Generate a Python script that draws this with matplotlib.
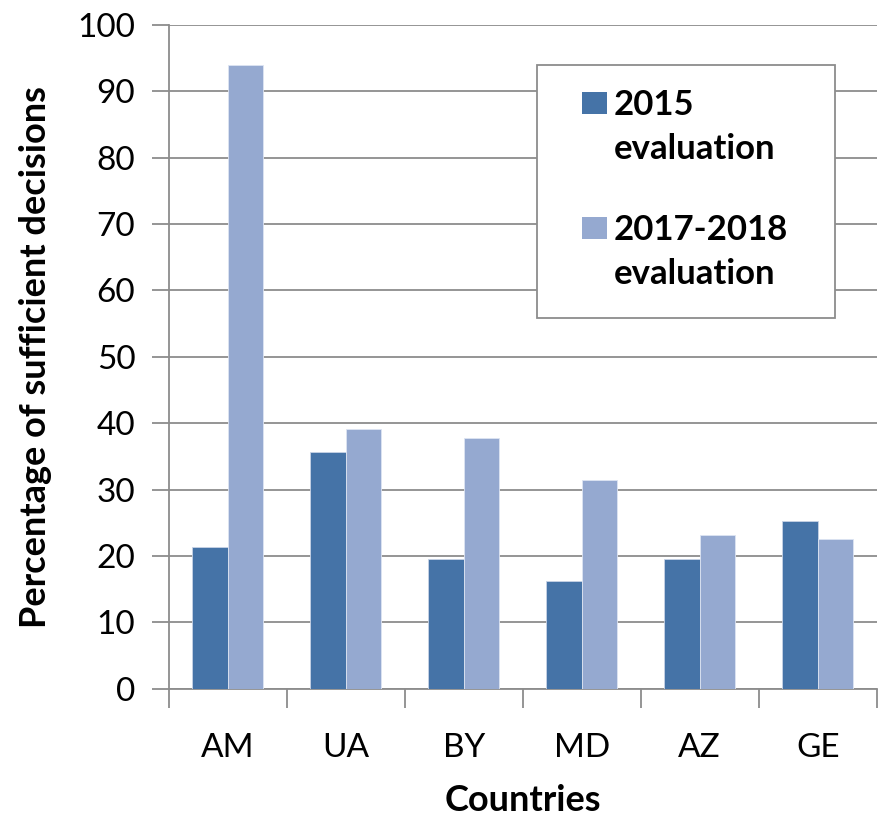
# %% libraries
import numpy as np
import matplotlib
matplotlib.use('Agg')
import matplotlib.pyplot as plt
from matplotlib.patches import Rectangle

# %% data
countries = ['AM', 'UA', 'BY', 'MD', 'AZ', 'GE']
eval_2015 = [21.4, 35.6, 19.5, 16.2, 19.5, 25.3]
eval_2017_2018 = [93.9, 39.2, 37.7, 31.4, 23.1, 22.5]
series_labels = ['2015\nevaluation', '2017-2018\nevaluation']
colors = ['#4573a7', '#95a9d0']

# %% plot
plt.rcParams['font.family'] = ['Lato', 'DejaVu Sans']
grey = '#8c8c8c'

fig = plt.figure(figsize=(8.83, 8.24), dpi=100)
ax = fig.add_axes([0.191, 0.164, 0.802, 0.806])

x = np.arange(len(countries))
w = 0.3
ax.bar(x - w / 2, eval_2015, w, color=colors[0], edgecolor='#c8d3e6', linewidth=0.6, zorder=3)
ax.bar(x + w / 2, eval_2017_2018, w, color=colors[1], edgecolor='#dde4f2', linewidth=0.6, zorder=3)

ax.set_xlim(-0.5, len(countries) - 0.5)
ax.set_ylim(0, 100)
ax.set_yticks(range(0, 101, 10))
ax.yaxis.grid(True, color=grey, linewidth=1.3, zorder=0)

# category labels centered, tick marks between categories
ax.set_xticks(x)
ax.set_xticklabels(countries)
ax.set_xticks(np.arange(-0.5, len(countries) - 0.4, 1), minor=True)
ax.tick_params(axis='x', which='major', length=0, pad=32, labelsize=24)
ax.tick_params(axis='x', which='minor', length=14, width=1.3, color=grey, direction='out')
ax.tick_params(axis='y', length=12, width=1.3, color=grey, labelsize=24, pad=12)

for s in ['top', 'right']:
    ax.spines[s].set_visible(False)
for s in ['left', 'bottom']:
    ax.spines[s].set_color(grey)
    ax.spines[s].set_linewidth(1.3)

ax.set_ylabel('Percentage of sufficient decisions', fontsize=26, fontweight='bold', labelpad=18)
ax.set_xlabel('Countries', fontsize=26, fontweight='bold', labelpad=15)

# legend box drawn by hand so the swatch sits on the first text line
ax.add_patch(Rectangle((0.520, 0.559), 0.421, 0.381, transform=ax.transAxes,
                       facecolor='white', edgecolor=grey, linewidth=1.3, zorder=5))
for lab, col, ytop in zip(series_labels, colors, [0.899, 0.711]):
    ax.add_patch(Rectangle((0.584, ytop - 0.034), 0.035, 0.033, transform=ax.transAxes,
                           facecolor=col, edgecolor='none', zorder=6))
    ax.text(0.629, ytop + 0.004, lab, transform=ax.transAxes, fontsize=25, fontweight='bold',
            va='top', ha='left', linespacing=1.45, zorder=6)

plt.savefig('out.png', dpi=100)
